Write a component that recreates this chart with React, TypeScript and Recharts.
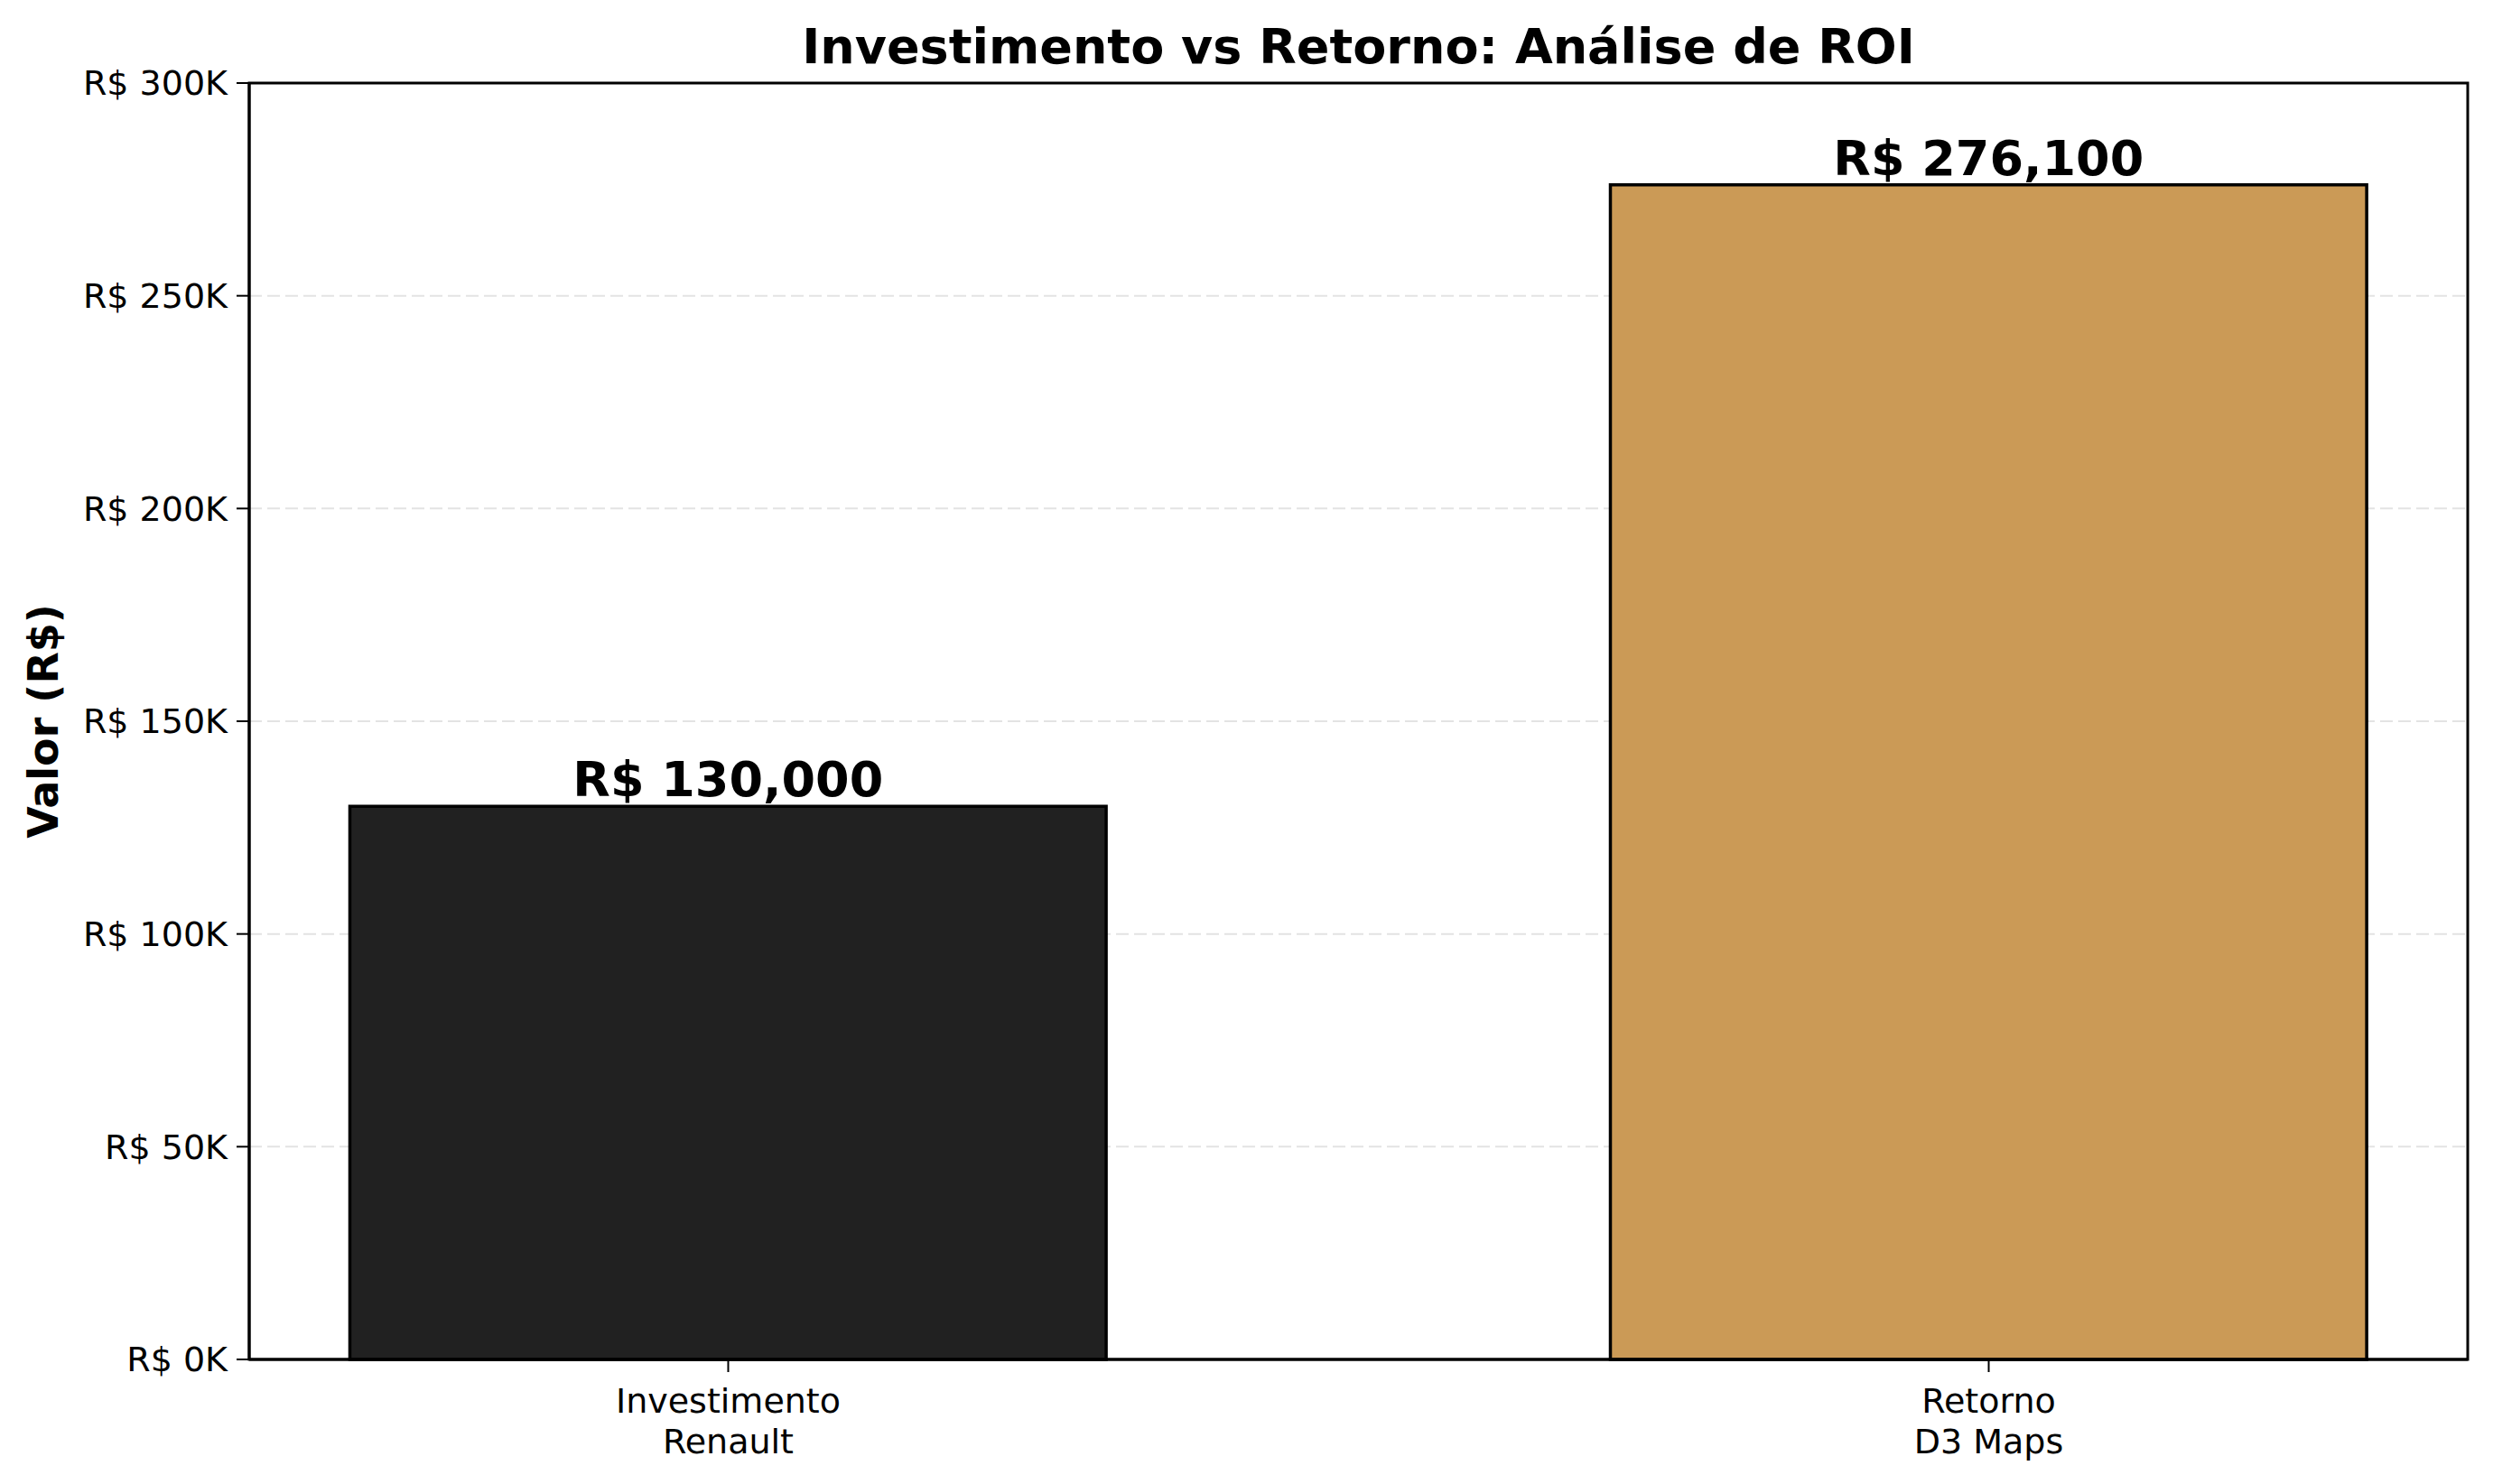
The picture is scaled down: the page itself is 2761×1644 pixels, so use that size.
import React from 'react';
import { BarChart, Bar, XAxis, YAxis, CartesianGrid, Cell, LabelList, ReferenceArea, Label } from 'recharts';

// Data
const categories = ['Investimento\nRenault', 'Retorno\nD3 Maps'];
const values = [130000, 276100];
const yTicks = [0, 50000, 100000, 150000, 200000, 250000, 300000];

const barColors = ['#212121', '#CB9A56'];

const W = 2761;
const H = 1644;
const margin = { top: 92, right: 28, bottom: 0, left: 0 };
const xAxisHeight = 138;
const yAxisWidth = 276;
const xDomain: [number, number] = [-0.38, 1.38];
const plotW = W - margin.left - margin.right - yAxisWidth;
const barSize = (plotW * 0.6) / (xDomain[1] - xDomain[0]);

const FONT = '"DejaVu Sans", sans-serif';

const chartData = categories.map((c, i) => ({ x: i, name: c, value: values[i] }));

const XTick = (props: any) => {
  const { x, y, payload } = props;
  const lines = String(categories[payload.value] ?? '').split('\n');
  return (
    <text x={x} y={y} textAnchor="middle" fontFamily={FONT} fontSize={38} fill="#000">
      {lines.map((l, i) => (
        <tspan key={i} x={x} dy={i === 0 ? 43 : 45}>{l}</tspan>
      ))}
    </text>
  );
};

const ValueLabel = (props: any) => {
  const { x, y, width, value } = props;
  return (
    <text x={x + width / 2} y={y - 11} textAnchor="middle" fontFamily={FONT} fontSize={54} fontWeight="bold" fill="#000">
      {`R$ ${Number(value).toLocaleString('en-US')}`}
    </text>
  );
};

const App = () => {
  return (
    <div style={{ position: 'absolute', left: 0, top: 0, width: W, height: H, background: '#fff' }}>
      <BarChart width={W} height={H} data={chartData} margin={margin}>
        <CartesianGrid horizontal vertical={false} stroke="#e3e3e3" strokeWidth={2} strokeDasharray="14 6" />
        <XAxis
          dataKey="x"
          type="number"
          domain={xDomain}
          ticks={[0, 1]}
          allowDataOverflow
          height={xAxisHeight}
          tick={<XTick />}
          tickSize={14}
          tickLine={{ stroke: '#000', strokeWidth: 2 }}
          axisLine={{ stroke: '#000', strokeWidth: 3 }}
          interval={0}
        />
        <YAxis
          type="number"
          domain={[0, 300000]}
          ticks={yTicks}
          width={yAxisWidth}
          tickFormatter={(v: number) => `R$ ${v / 1000}K`}
          tick={{ fontFamily: FONT, fontSize: 38, fill: '#000' }}
          tickSize={14}
          tickMargin={10}
          tickLine={{ stroke: '#000', strokeWidth: 2 }}
          axisLine={{ stroke: '#000', strokeWidth: 3 }}
        >
          <Label
            content={(p: any) => {
              const vb = p.viewBox || {};
              const cx = 48;
              const cy = (vb.y ?? 0) + (vb.height ?? 0) / 2;
              return (
                <text
                  x={cx}
                  y={cy}
                  transform={`rotate(-90, ${cx}, ${cy})`}
                  textAnchor="middle"
                  dominantBaseline="central"
                  fontFamily={FONT}
                  fontSize={46}
                  fontWeight="bold"
                  fill="#000"
                >
                  Valor (R$)
                </text>
              );
            }}
          />
        </YAxis>
        <Bar dataKey="value" barSize={barSize} stroke="#000" strokeWidth={3.5} isAnimationActive={false}>
          {chartData.map((d, i) => (
            <Cell key={d.name} fill={barColors[i]} />
          ))}
          <LabelList dataKey="value" content={<ValueLabel />} />
        </Bar>
        <ReferenceArea
          x1={xDomain[0]}
          x2={xDomain[1]}
          y1={0}
          y2={300000}
          fill="none"
          stroke="#000"
          strokeWidth={3}
          ifOverflow="visible"
        >
          <Label
            content={(p: any) => {
              const vb = p.viewBox || {};
              return (
                <text
                  x={(vb.x ?? 0) + (vb.width ?? 0) / 2}
                  y={70}
                  textAnchor="middle"
                  fontFamily={FONT}
                  fontSize={54}
                  fontWeight="bold"
                  fill="#000"
                >
                  Investimento vs Retorno: Análise de ROI
                </text>
              );
            }}
          />
        </ReferenceArea>
      </BarChart>
    </div>
  );
};

export default App;
